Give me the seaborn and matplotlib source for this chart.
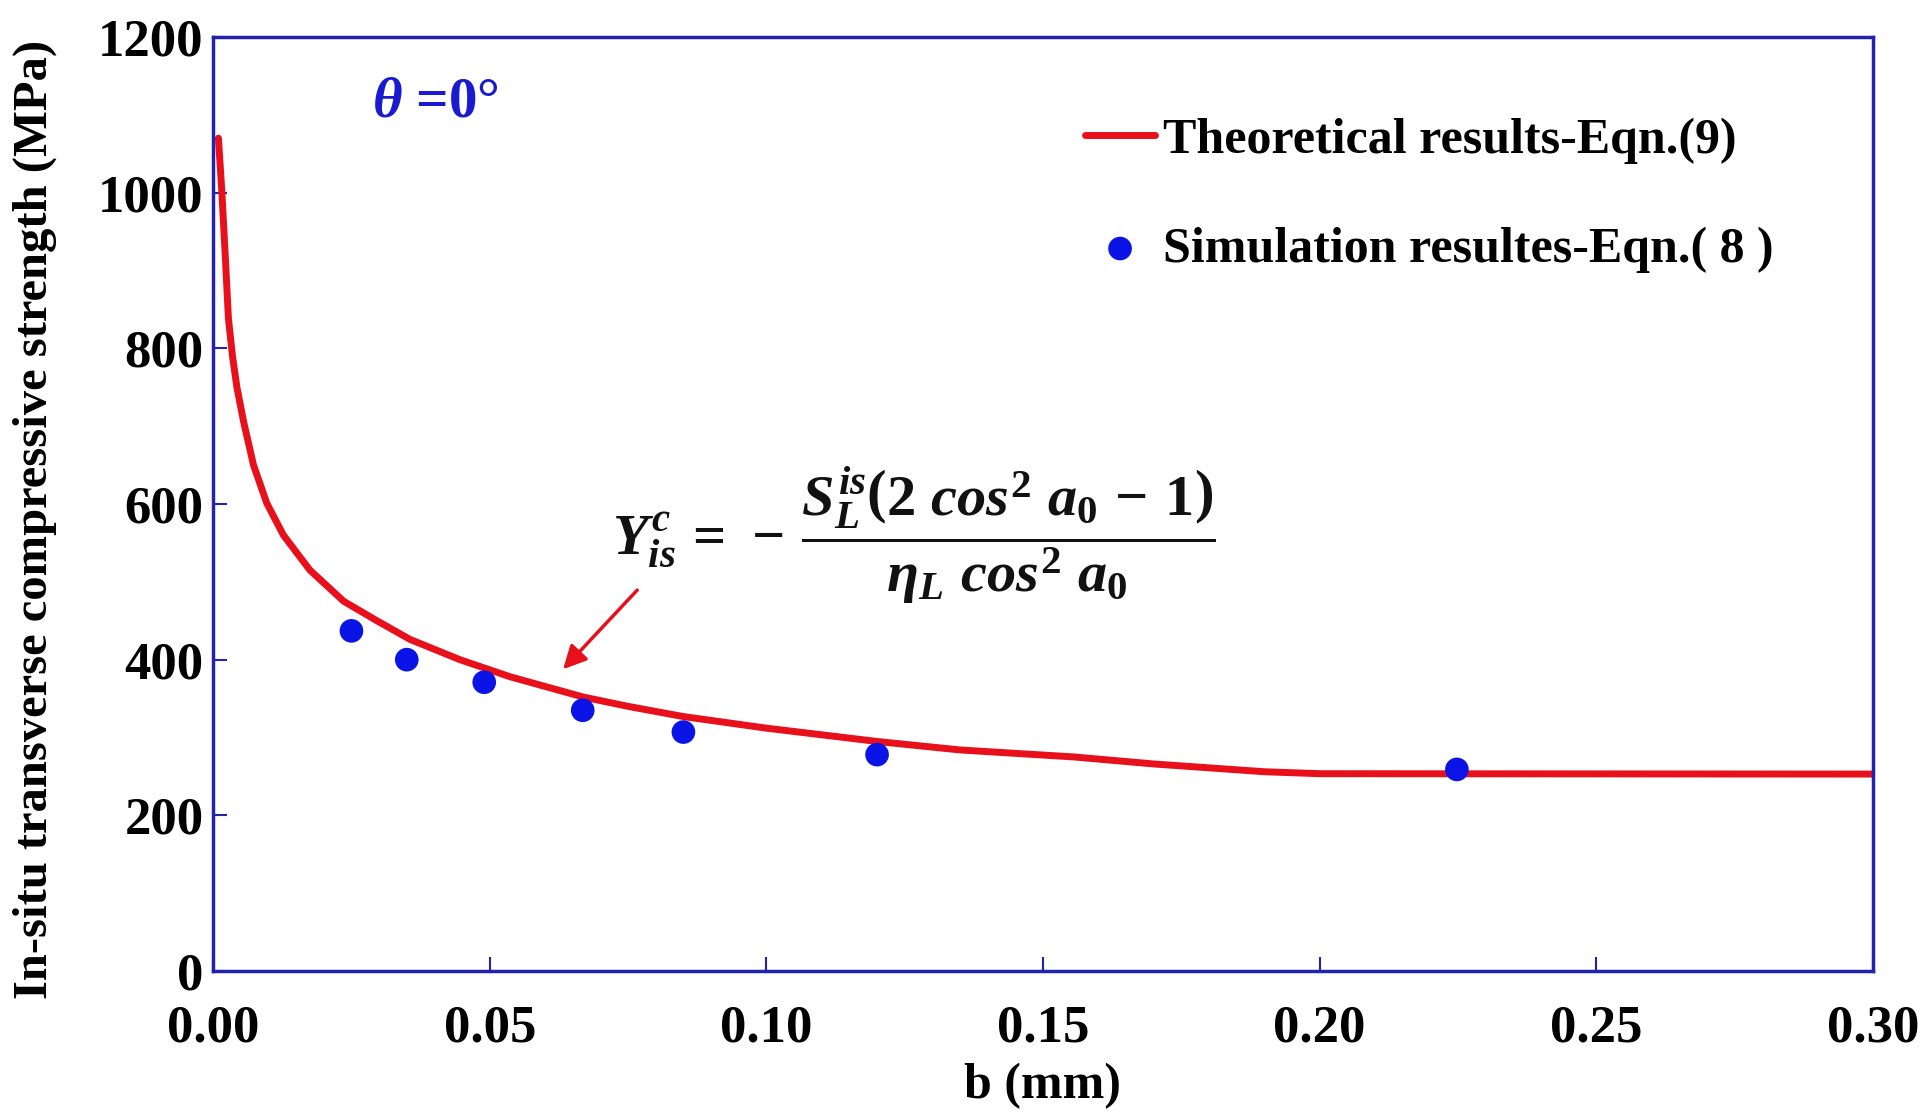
import numpy as np
import pandas as pd
import seaborn as sns
import matplotlib.pyplot as plt

# theoretical curve
b_theory = [0.00096, 0.00157, 0.00217, 0.00277, 0.0035, 0.0043, 0.0055, 0.0073, 0.0097, 0.0127,
            0.0175, 0.0236, 0.0296, 0.0356, 0.0446, 0.0537, 0.0669, 0.075, 0.0849, 0.1,
            0.1199, 0.135, 0.1556, 0.17, 0.18, 0.19, 0.20, 0.30]
y_theory = [1070, 1002, 922, 838, 790, 750, 706, 650, 601, 560,
            515, 475, 450, 426, 400, 378, 352, 340, 327, 312,
            295, 284, 275, 266, 261, 256, 253.5, 253]

# simulation points
b_sim = [0.025, 0.035, 0.049, 0.0668, 0.085, 0.120, 0.2248]
y_sim = [437, 400, 371, 335, 307, 278, 259]

x_ticks = [0.00, 0.05, 0.10, 0.15, 0.20, 0.25, 0.30]
y_ticks = [0, 200, 400, 600, 800, 1000, 1200]

theory = pd.DataFrame({'b': b_theory, 'Y': y_theory})
sim = pd.DataFrame({'b': b_sim, 'Y': y_sim})

sns.set_style('ticks')
plt.rcParams['font.family'] = ['Liberation Serif', 'DejaVu Serif']
plt.rcParams['font.weight'] = 'bold'
plt.rcParams['text.color'] = 'black'
plt.rcParams['axes.labelcolor'] = 'black'
plt.rcParams['xtick.labelcolor'] = 'black'
plt.rcParams['ytick.labelcolor'] = 'black'
plt.rcParams['mathtext.fontset'] = 'custom'
plt.rcParams['mathtext.rm'] = 'Liberation Serif:bold'
plt.rcParams['mathtext.it'] = 'Liberation Serif:italic:bold'
plt.rcParams['mathtext.bf'] = 'Liberation Serif:bold'

spine_col = '#2222aa'

fig = plt.figure(figsize=(19.2, 11.17), dpi=100)
ax = fig.add_axes([0.111, 0.1307, 0.8645, 0.8362])

sns.lineplot(data=theory, x='b', y='Y', color='#e8101a', linewidth=5, ax=ax,
             label='Theoretical results-Eqn.(9)')
sns.scatterplot(data=sim, x='b', y='Y', color='#0a14e6', s=290, edgecolor='none', ax=ax,
                label='Simulation resultes-Eqn.( 8 )', zorder=3)

ax.set_xlim(0, 0.30)
ax.set_ylim(0, 1200)
ax.set_xticks(x_ticks)
ax.set_yticks(y_ticks)
ax.set_xticklabels(['%.2f' % v for v in x_ticks])
ax.tick_params(direction='in', length=10, width=1.5, color=spine_col, labelsize=38)
ax.tick_params(axis='y', pad=7)
ax.tick_params(axis='x', pad=24)
for s in ax.spines.values():
    s.set_color(spine_col)
    s.set_linewidth(2.5)

ax.set_xlabel('b (mm)', fontsize=36, fontweight='bold')
ax.set_ylabel('In-situ transverse compressive strength (MPa)', fontsize=35,
              fontweight='bold')
ax.xaxis.set_label_coords(0.4994, -0.098)
ax.yaxis.set_label_coords(-0.094, 0.483)

leg = ax.legend(loc='upper right', bbox_to_anchor=(0.967, 0.962), frameon=False,
                fontsize=36, labelspacing=1.25, handlelength=1.4, handletextpad=0.15,
                markerscale=1.0)
for t in leg.get_texts():
    t.set_fontweight('bold')

ax.text(0.096, 0.93, r'$\theta$ =0°', transform=ax.transAxes, color='#1a1ad0',
        fontsize=41, fontweight='bold', ha='left', va='center')

ax.text(0.0721, 560,
        r'$Y^{c}_{is}\,=\,-\,\dfrac{S^{is}_{L}\left(2\ cos^{2}\ a_{0}\,-\,1\right)}{\eta_{L}\ cos^{2}\ a_{0}}$',
        fontsize=42, ha='left', va='center', color='#111111')

ax.annotate('', xy=(0.0629, 385), xytext=(0.077, 492),
            arrowprops=dict(arrowstyle='-|>', color='#e8101a', lw=2.5, mutation_scale=35))

fig.savefig('out.png', dpi=100, facecolor='white')
